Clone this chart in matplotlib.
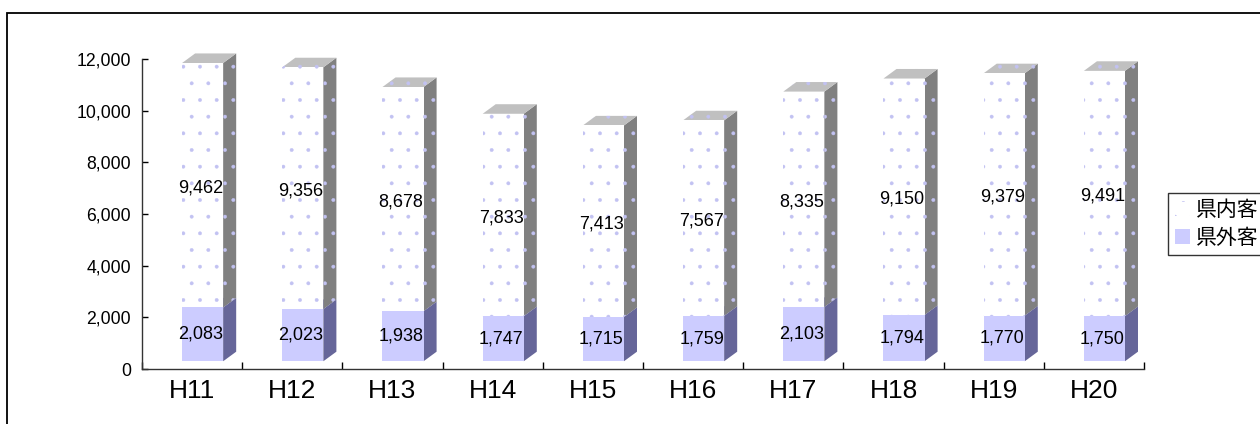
import numpy as np
import matplotlib.pyplot as plt
from matplotlib.patches import Polygon, Rectangle, Patch
from matplotlib.ticker import FuncFormatter

plt.rcParams['font.family'] = ['Liberation Sans', 'Noto Sans CJK JP', 'DejaVu Sans']
plt.rcParams['hatch.linewidth'] = 0.3

# data
years = ['H11', 'H12', 'H13', 'H14', 'H15', 'H16', 'H17', 'H18', 'H19', 'H20']
kennai = [9462, 9356, 8678, 7833, 7413, 7567, 8335, 9150, 9379, 9491]
kengai = [2083, 2023, 1938, 1747, 1715, 1759, 2103, 1794, 1770, 1750]
series_names = ['県内客', '県外客']

# 3d look of the bars
x0, x1 = 0.40, 0.81     # front face within a category
dx, dy = 0.13, 370      # depth offset
base = 300              # front face sits a bit above the floor
dot_col = '#c2c2f2'

fig = plt.figure(figsize=(12.6, 4.24), dpi=100)
ax = fig.add_axes([142/1260, 1-369/424, (1144-142)/1260, (369-59)/424])


def block(i, y_lo, y_hi, front, side, top, hatch=None):
    kw = dict(linewidth=0, clip_on=False)
    if hatch:
        kw['hatch'] = hatch
        kw['edgecolor'] = dot_col
    a, b = i + x0, i + x1
    ax.add_patch(Polygon([(b, y_lo), (b+dx, y_lo+dy), (b+dx, y_hi+dy), (b, y_hi)],
                         facecolor=side, **kw))
    ax.add_patch(Polygon([(a, y_hi), (b, y_hi), (b+dx, y_hi+dy), (a+dx, y_hi+dy)],
                         facecolor=top, **kw))
    ax.add_patch(Rectangle((a, y_lo), b-a, y_hi-y_lo, facecolor=front, **kw))


for i in range(len(years)):
    lo = base
    mid = base + kengai[i]
    hi = mid + kennai[i]
    block(i, lo, mid, '#ccccff', '#666699', '#9999cc')
    block(i, mid, hi, 'white', '#808080', '#c0c0c0', hatch='.')
    ax.text(i + 0.585, (lo + mid) / 2, f'{kengai[i]:,}', ha='center', va='center', fontsize=13)
    ax.text(i + 0.585, (mid + hi) / 2 - 100, f'{kennai[i]:,}', ha='center', va='center', fontsize=13)

ax.set_xlim(0, len(years))
ax.set_ylim(0, 12000)
ax.set_yticks(np.arange(0, 12001, 2000))
ax.yaxis.set_major_formatter(FuncFormatter(lambda v, p: f'{int(v):,}'))
ax.set_xticks(np.arange(0, len(years) + 1))
ax.set_xticklabels([])
ax.set_xticks(np.arange(len(years)) + 0.5, minor=True)
ax.set_xticklabels(years, minor=True, fontsize=19)
ax.tick_params(axis='x', which='minor', length=0, pad=7)
ax.tick_params(axis='x', which='major', direction='in', length=5, width=1)
ax.tick_params(axis='y', direction='in', length=4, width=1, labelsize=12.7, pad=8)
for s in ['top', 'right']:
    ax.spines[s].set_visible(False)
for s in ['left', 'bottom']:
    ax.spines[s].set_linewidth(1)
    ax.spines[s].set_color('#333333')

handles = [Patch(facecolor='white', hatch='.', edgecolor=dot_col, linewidth=0),
           Patch(facecolor='#ccccff', linewidth=0)]
leg = fig.legend(handles, series_names, loc='upper left',
                 bbox_to_anchor=(1168/1260, 1-193/424), fontsize=15,
                 frameon=True, fancybox=False, shadow=False,
                 handlelength=0.7, handleheight=0.7, handletextpad=0.3,
                 labelspacing=0.4, borderpad=0.35, borderaxespad=0)
leg.get_frame().set_edgecolor('black')
leg.get_frame().set_linewidth(1)

# outer chart border
fig.add_artist(Rectangle((7/1260, -0.1), 1.2, 1.1 - 13/424, transform=fig.transFigure,
                         fill=False, edgecolor='black', linewidth=1.3))

fig.savefig('out.png', dpi=100)
